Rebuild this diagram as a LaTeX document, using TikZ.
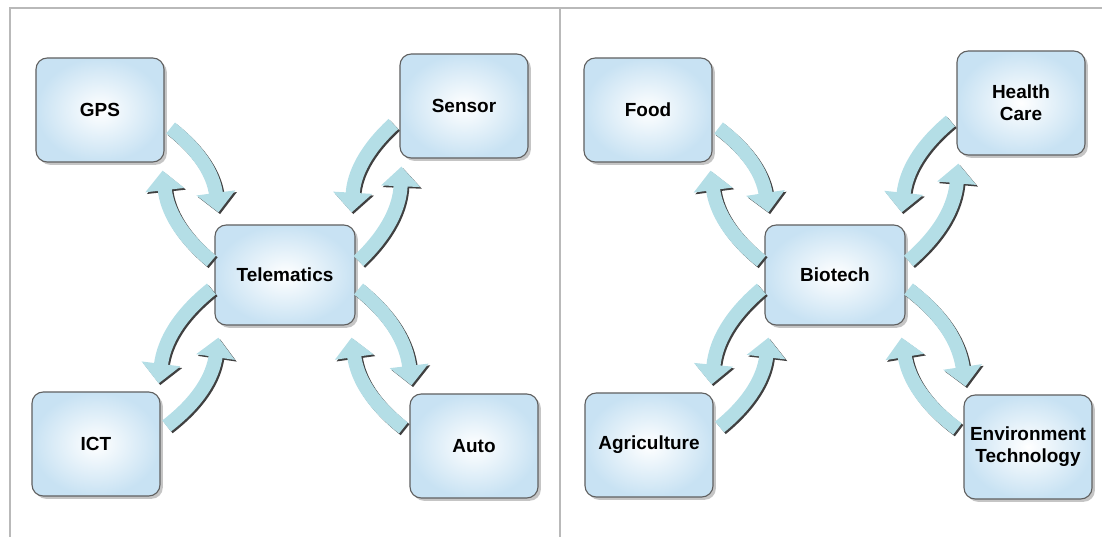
\documentclass[tikz,border=0pt]{standalone}
\usepackage{fontspec}
\setmainfont{Liberation Sans}
\usetikzlibrary{arrows.meta,shadows}

\definecolor{boxblue}{RGB}{200,226,243}
\definecolor{arrowblue}{RGB}{180,222,230}
\definecolor{framegray}{RGB}{185,185,185}

\begin{document}
\begin{tikzpicture}[x=0.025cm,y=-0.025cm,
box/.style={draw=gray!75!black,rounded corners=8pt,thick,inner color=white,outer color=boxblue,
  minimum width=3.2cm,minimum height=2.6cm,align=center,font=\bfseries\fontsize{13.5}{15.5}\selectfont,
  drop shadow={shadow xshift=2pt,shadow yshift=-2pt,fill=black!45}},
hub/.style={box,minimum width=3.5cm,minimum height=2.5cm},
swirl/.style={line width=10pt,draw=arrowblue,-{Triangle[width=27pt,length=14pt]},
  preaction={draw=black!75,line width=10pt,transform canvas={shift={(1.2pt,-1.2pt)}}}}]

\useasboundingbox (0,0) rectangle (1102,537);
\draw[framegray,line width=1.2pt] (10,537) -- (10,8) -- (1102,8);
\draw[framegray,line width=1.2pt] (560,8) -- (560,537);

% left panel
\node[box] (gps) at (100,110) {GPS};
\node[box] (sensor) at (464,106) {Sensor};
\node[hub] (tele) at (285,275) {Telematics};
\node[box] (ict) at (96,444) {ICT};
\node[box] (auto) at (474,446) {Auto};

\draw[swirl] ([shift={(6,18)}]gps.east) to[bend left=22] ([shift={(4,-12)}]tele.north west);
\draw[swirl] ([shift={(-3,-14)}]tele.west) to[bend left=22] ([shift={(-2,8)}]gps.south east);
\draw[swirl] ([shift={(-6,18)}]sensor.west) to[bend right=22] ([shift={(-4,-12)}]tele.north east);
\draw[swirl] ([shift={(3,-14)}]tele.east) to[bend right=22] ([shift={(2,8)}]sensor.south west);
\draw[swirl] ([shift={(6,-18)}]ict.east) to[bend right=22] ([shift={(4,12)}]tele.south west);
\draw[swirl] ([shift={(-3,14)}]tele.west) to[bend right=22] ([shift={(-2,-8)}]ict.north east);
\draw[swirl] ([shift={(-6,-18)}]auto.west) to[bend left=22] ([shift={(-4,12)}]tele.south east);
\draw[swirl] ([shift={(3,14)}]tele.east) to[bend left=22] ([shift={(2,-8)}]auto.north west);

% right panel
\node[box] (food) at (648,110) {Food};
\node[box] (health) at (1021,103) {Health\\Care};
\node[hub] (bio) at (835,275) {Biotech};
\node[box] (agri) at (649,445) {Agriculture};
\node[box] (env) at (1028,447) {Environment\\Technology};

\draw[swirl] ([shift={(6,18)}]food.east) to[bend left=22] ([shift={(4,-12)}]bio.north west);
\draw[swirl] ([shift={(-3,-14)}]bio.west) to[bend left=22] ([shift={(-2,8)}]food.south east);
\draw[swirl] ([shift={(-6,18)}]health.west) to[bend right=22] ([shift={(-4,-12)}]bio.north east);
\draw[swirl] ([shift={(3,-14)}]bio.east) to[bend right=22] ([shift={(2,8)}]health.south west);
\draw[swirl] ([shift={(6,-18)}]agri.east) to[bend right=22] ([shift={(4,12)}]bio.south west);
\draw[swirl] ([shift={(-3,14)}]bio.west) to[bend right=22] ([shift={(-2,-8)}]agri.north east);
\draw[swirl] ([shift={(-6,-18)}]env.west) to[bend left=22] ([shift={(-4,12)}]bio.south east);
\draw[swirl] ([shift={(3,14)}]bio.east) to[bend left=22] ([shift={(2,-8)}]env.north west);

\end{tikzpicture}
\end{document}
